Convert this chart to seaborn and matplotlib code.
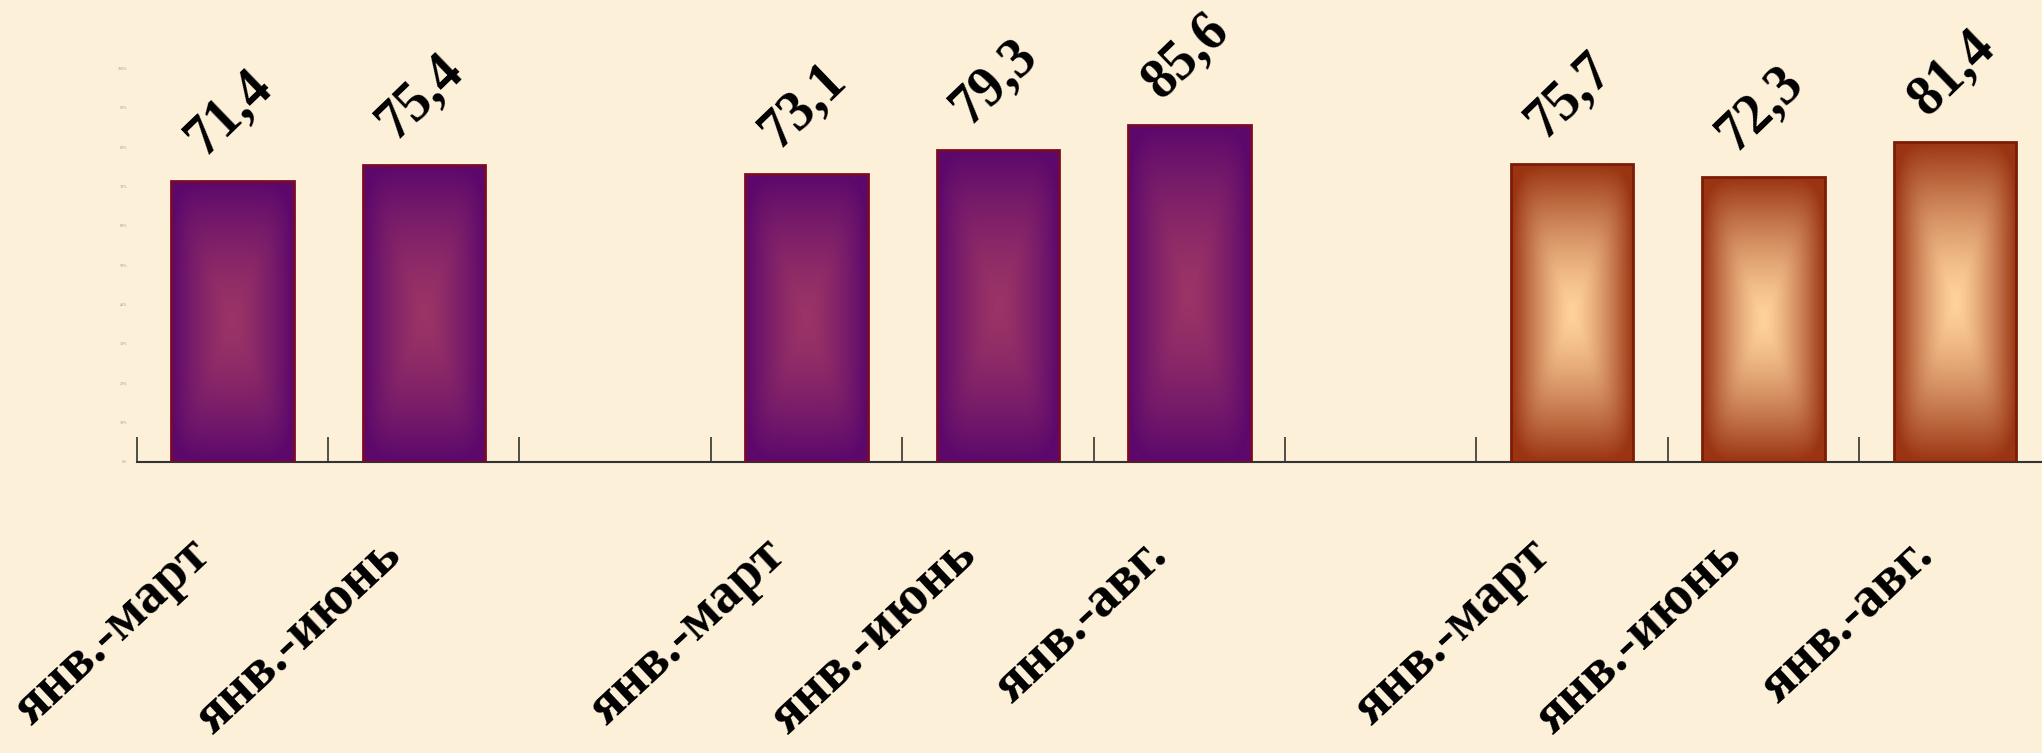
import numpy as np
import pandas as pd
import matplotlib
matplotlib.use("Agg")
import matplotlib.pyplot as plt
import seaborn as sns
from matplotlib.colors import to_rgb

# ---- data ----
periods = ["янв.-март", "янв.-июнь",
           "янв.-март", "янв.-июнь", "янв.-авг.",
           "янв.-март", "янв.-июнь", "янв.-авг."]
values = [71.4, 75.4,
          73.1, 79.3, 85.6,
          75.7, 72.3, 81.4]
groups = [1, 1, 2, 2, 2, 3, 3, 3]
y_ticks = list(range(0, 101, 10))
y_tick_labels = [f"{t}%" for t in y_ticks]

# ---- style ----
BG = "#FCF0D9"
STYLE = {
    1: dict(center="#9B3466", edge="#5C086C", outline="#7A0A26"),
    2: dict(center="#9B3466", edge="#5C086C", outline="#7A0A26"),
    3: dict(center="#FFD29C", edge="#9A3412", outline="#7C1C08"),
}

# build slot order: one empty slot between groups
order, slot_labels, slot_group = [], [], []
prev = None
for i, (p, g) in enumerate(zip(periods, groups)):
    if prev is not None and g != prev:
        order.append(f"gap{g}")
        slot_labels.append("")
        slot_group.append(None)
    order.append(f"s{i}")
    slot_labels.append(p)
    slot_group.append(g)
    prev = g

df = pd.DataFrame({"slot": [f"s{i}" for i in range(len(values))],
                   "value": values, "group": groups})

sns.set_theme(style="white")
plt.rcParams["font.family"] = ["Liberation Serif", "DejaVu Serif"]

fig = plt.figure(figsize=(20.42, 7.53), dpi=100, facecolor=BG)
ax = fig.add_axes([0.06694, 0.3868, 0.9373, 0.5224])
ax.set_facecolor("none")

sns.barplot(data=df, x="slot", y="value", order=order, width=0.64,
            color="#9B3466", saturation=1, errorbar=None, ax=ax)

# gradient fill (soft rectangular path gradient, light centre, dark edges)
nx, ny = 160, 400
u = np.linspace(-1, 1, nx)
v = np.linspace(-1, 1, ny)
U, V = np.meshgrid(u, v)
P = 6.0
T = np.clip((np.abs(U) ** P + np.abs(V) ** P) ** (1 / P), 0, 1) ** 1.4

for p in list(ax.patches):
    cx = p.get_x() + p.get_width() / 2
    idx = int(round(cx))
    g = slot_group[idx]
    st = STYLE[g]
    c0 = np.array(to_rgb(st["center"]))
    c1 = np.array(to_rgb(st["edge"]))
    img = c0[None, None, :] * (1 - T[..., None]) + c1[None, None, :] * T[..., None]
    x0, w = p.get_x(), p.get_width()
    y0, h = p.get_y(), p.get_height()
    im = ax.imshow(img, extent=[x0, x0 + w, y0, y0 + h], aspect="auto",
                   origin="lower", zorder=2, interpolation="bilinear")
    im.set_clip_path(p)
    p.set_facecolor("none")
    p.set_edgecolor(st["outline"])
    p.set_linewidth(2)
    p.set_zorder(3)
    # value label
    ax.annotate(f"{y0 + h:.1f}".replace(".", ","), xy=(cx, y0 + h),
                xytext=(-3, 16), textcoords="offset pixels",
                rotation=44, ha="center", va="bottom",
                fontsize=40, fontweight="bold", color="black", zorder=5)

# category labels below the axis (anchored at end of baseline)
for i, lab in enumerate(slot_labels):
    if lab:
        ax.annotate(lab, xy=(i, 0), xycoords=("data", "axes fraction"),
                    xytext=(-20, -96), textcoords="offset pixels",
                    rotation=43, rotation_mode="anchor",
                    ha="right", va="baseline",
                    fontsize=40, fontweight="bold", color="black",
                    annotation_clip=False)

ax.set_xlim(-0.5, len(order) - 0.5)
ax.set_ylim(0, 100)
ax.set_xticks([k - 0.5 for k in range(len(order) + 1)])
ax.set_xticklabels([])
ax.tick_params(axis="x", direction="in", length=18, width=1.2,
               color="#333333", bottom=True)
ax.set_yticks(y_ticks)
ax.set_yticklabels(y_tick_labels)
ax.tick_params(axis="y", length=0, labelsize=3, labelcolor="#999999", pad=7)
ax.set_xlabel("")
ax.set_ylabel("")
for s in ("top", "right", "left"):
    ax.spines[s].set_visible(False)
ax.spines["bottom"].set_color("#333333")
ax.spines["bottom"].set_linewidth(1.5)

fig.savefig("out.png", dpi=100, facecolor=BG)
